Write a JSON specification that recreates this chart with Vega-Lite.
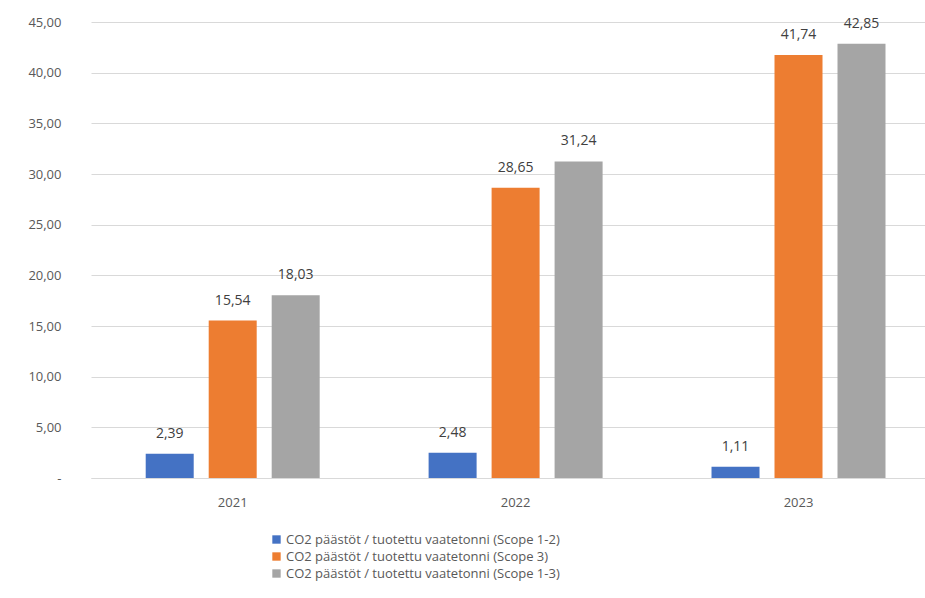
{
  "$schema": "https://vega.github.io/schema/vega-lite/v6.json",
  "width": 834,
  "height": 456,
  "autosize": {"type": "none"},
  "padding": {"left": 91, "top": 22, "right": 0, "bottom": 120},
  "background": "white",
  "config": {
    "locale": {"number": {"decimal": ",", "thousands": " ", "grouping": [3], "currency": ["", " €"]}},
    "font": "Open Sans",
    "view": {"stroke": null}
  },
  "data": {
    "values": [
      {"vuosi": "2021", "sarja": "CO2 päästöt / tuotettu vaatetonni (Scope 1-2)", "arvo": 2.39},
      {"vuosi": "2021", "sarja": "CO2 päästöt / tuotettu vaatetonni (Scope 3)", "arvo": 15.54},
      {"vuosi": "2021", "sarja": "CO2 päästöt / tuotettu vaatetonni (Scope 1-3)", "arvo": 18.03},
      {"vuosi": "2022", "sarja": "CO2 päästöt / tuotettu vaatetonni (Scope 1-2)", "arvo": 2.48},
      {"vuosi": "2022", "sarja": "CO2 päästöt / tuotettu vaatetonni (Scope 3)", "arvo": 28.65},
      {"vuosi": "2022", "sarja": "CO2 päästöt / tuotettu vaatetonni (Scope 1-3)", "arvo": 31.24},
      {"vuosi": "2023", "sarja": "CO2 päästöt / tuotettu vaatetonni (Scope 1-2)", "arvo": 1.11},
      {"vuosi": "2023", "sarja": "CO2 päästöt / tuotettu vaatetonni (Scope 3)", "arvo": 41.74},
      {"vuosi": "2023", "sarja": "CO2 päästöt / tuotettu vaatetonni (Scope 1-3)", "arvo": 42.85}
    ]
  },
  "encoding": {
    "x": {
      "field": "vuosi", "type": "nominal",
      "scale": {"paddingInner": 0.332, "paddingOuter": 0.14, "align": 0.596},
      "axis": {
        "title": null, "labelAngle": 0, "ticks": false, "labelPadding": 18,
        "labelFontSize": 13, "labelColor": "#595959", "domainColor": "#d9d9d9", "grid": false
      }
    },
    "xOffset": {
      "field": "sarja", "type": "nominal",
      "sort": ["CO2 päästöt / tuotettu vaatetonni (Scope 1-2)", "CO2 päästöt / tuotettu vaatetonni (Scope 3)", "CO2 päästöt / tuotettu vaatetonni (Scope 1-3)"],
      "scale": {"paddingInner": 0.238, "paddingOuter": 0.119}
    },
    "y": {
      "field": "arvo", "type": "quantitative",
      "scale": {"domain": [0, 45]},
      "axis": {
        "title": null, "values": [0, 5, 10, 15, 20, 25, 30, 35, 40, 45],
        "format": ".2f", "labelExpr": "datum.value == 0 ? '-' : datum.label",
        "domain": false, "ticks": false, "labelPadding": 30,
        "labelFontSize": 13, "labelColor": "#595959", "gridColor": "#d9d9d9"
      }
    },
    "color": {
      "field": "sarja", "type": "nominal",
      "sort": ["CO2 päästöt / tuotettu vaatetonni (Scope 1-2)", "CO2 päästöt / tuotettu vaatetonni (Scope 3)", "CO2 päästöt / tuotettu vaatetonni (Scope 1-3)"],
      "scale": {"range": ["#4472C4", "#ED7D31", "#A5A5A5"]},
      "legend": {
        "title": null, "orient": "none", "legendX": 179, "legendY": 511,
        "symbolType": "square", "symbolSize": 70, "symbolStrokeWidth": 0, "symbolOpacity": 1,
        "labelFontSize": 13, "labelColor": "#595959", "rowPadding": 3, "symbolOffset": 0, "labelOffset": 3,
        "labelLimit": 400
      }
    }
  },
  "layer": [
    {"mark": {"type": "bar"}},
    {
      "mark": {"type": "text", "dy": -20, "fontSize": 14, "color": "#404040"},
      "encoding": {
        "text": {"field": "arvo", "type": "quantitative", "format": ".2f"},
        "color": {"value": "#404040"}
      }
    }
  ]
}
